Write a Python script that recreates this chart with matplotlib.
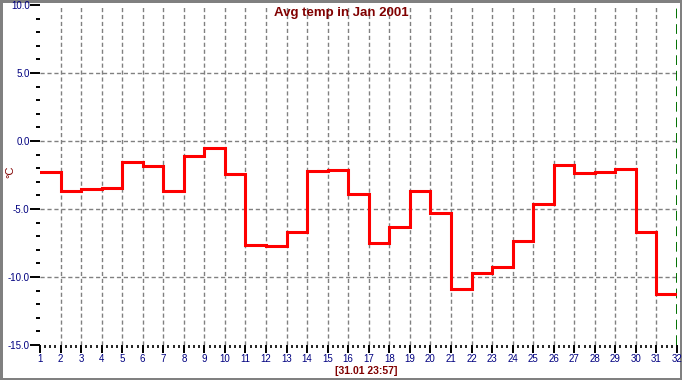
import matplotlib
matplotlib.use("Agg")
import matplotlib.pyplot as plt
from matplotlib.ticker import MultipleLocator, FixedLocator
import numpy as np

days = list(range(1, 33))
temps = [-2.27, -3.67, -3.55, -3.47, -1.53, -1.82, -3.67, -1.11, -0.52, -2.44,
         -7.62, -7.75, -6.72, -2.21, -2.11, -3.92, -7.53, -6.30, -3.65, -5.32,
         -10.91, -9.68, -9.29, -7.38, -4.66, -1.74, -2.33, -2.26, -2.09, -6.72,
         -11.28]
y_ticks = [10.0, 5.0, 0.0, -5.0, -10.0, -15.0]
title = "Avg temp in Jan 2001"
stamp = "[31.01 23:57]"

NAVY = "#000080"
MAROON = "#800000"
plt.rcParams['font.family'] = ['Liberation Sans', 'DejaVu Sans']

fig = plt.figure(figsize=(6.82, 3.80), dpi=100, linewidth=2.5, edgecolor="#808080")
ax = fig.add_axes([40 / 682, 1 - 345 / 380, 637 / 682, 340 / 380])

# step line: each day's value holds until the next day
ax.step(days, temps + [temps[-1]], where="post", color="#ff0000", lw=2.2,
        solid_joinstyle="miter", zorder=3)

ax.set_xlim(1, 32)
ax.set_ylim(-15, 10)

for s in ax.spines.values():
    s.set_visible(False)

ax.xaxis.set_major_locator(FixedLocator(days))
ax.xaxis.set_minor_locator(MultipleLocator(0.25))
ax.yaxis.set_major_locator(FixedLocator(y_ticks))
ax.yaxis.set_minor_locator(MultipleLocator(1.0))
ax.set_yticklabels(["%.1f" % v for v in y_ticks])

ax.tick_params(axis="both", which="major", direction="out", color="black",
               width=1.4, labelsize=7, labelcolor=NAVY)
ax.tick_params(axis="y", which="major", length=7, pad=0.5)
ax.tick_params(axis="y", which="minor", length=3, width=1.4)
ax.tick_params(axis="x", which="major", length=6, pad=0.5)
ax.tick_params(axis="x", which="minor", length=2.5, width=1.2)

# grid lines (skip the edges)
for d in days[1:-1]:
    ax.axvline(d, color="#808080", lw=1.0, ls=(0, (3, 2)), zorder=1)
for v in y_ticks[1:-1]:
    ax.axhline(v, color="#808080", lw=1.0, ls=(0, (3, 2)), zorder=1)
ax.axvline(days[-1], color="#007000", lw=1.4, ls=(0, (5, 3)), zorder=2)

fig.text(0.5, 1 - 13 / 380, title, ha="center", va="center", color=MAROON,
         fontsize=9.5, fontweight="bold")
fig.text(366 / 682, 1 - 371 / 380, stamp, ha="center", va="center", color=MAROON,
         fontsize=7.5, fontweight="bold")
fig.text(10 / 682, 1 - 172 / 380, "°C", ha="center", va="center", color=MAROON,
         fontsize=8, rotation=90)

fig.savefig("out.png", dpi=100)
